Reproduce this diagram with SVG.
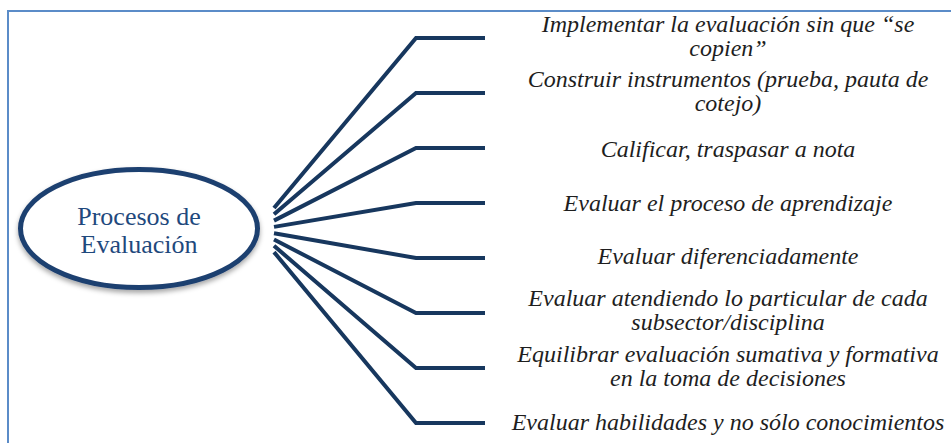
<svg xmlns="http://www.w3.org/2000/svg" width="951" height="443" viewBox="0 0 951 443">
  <style>
    .frame { fill: none; stroke: #5b8cc8; stroke-width: 2; }
    .conn { fill: none; stroke: #17375e; stroke-width: 4; stroke-linejoin: miter; }
    .hub { fill: #ffffff; stroke: #1f3f6f; stroke-width: 5; }
    .hubtext { font-family: 'Liberation Serif', 'DejaVu Serif', 'Noto Serif', serif; font-size: 26px; fill: #1f497d; text-anchor: middle; }
    .lbl { font-family: 'Liberation Serif', 'DejaVu Serif', 'Noto Serif', serif; font-style: italic; font-size: 24px; fill: #1e1e1e; text-anchor: middle; }
  </style>
  <defs>
    <filter id="shadow" x="-20%" y="-20%" width="140%" height="150%">
      <feDropShadow dx="0" dy="3" stdDeviation="2.5" flood-color="#000000" flood-opacity="0.35"/>
    </filter>
  </defs>
  <rect width="951" height="443" fill="#ffffff"/>
  <path class="frame" d="M8,443 V11 H951"/>

  <g id="connectors">
    <path class="conn" d="M274,208 L416,38 H485"/>
    <path class="conn" d="M274,214.3 L416,93 H485"/>
    <path class="conn" d="M274,220.6 L416,148 H485"/>
    <path class="conn" d="M274,226.9 L416,203 H485"/>
    <path class="conn" d="M274,233.2 L416,258 H485"/>
    <path class="conn" d="M274,239.5 L416,313 H485"/>
    <path class="conn" d="M274,245.8 L416,368 H485"/>
    <path class="conn" d="M274,252.1 L416,423 H485"/>
  </g>

  <g id="hub">
    <ellipse class="hub" cx="139" cy="228.5" rx="118.5" ry="59" filter="url(#shadow)"/>
    <text class="hubtext" x="139" y="225">Procesos de</text>
    <text class="hubtext" x="139" y="253">Evaluación</text>
  </g>

  <g id="n1">
    <text class="lbl" x="728" y="32">Implementar la evaluación sin que “se</text>
    <text class="lbl" x="728" y="56">copien”</text>
  </g>
  <g id="n2">
    <text class="lbl" x="728" y="87">Construir instrumentos (prueba, pauta de</text>
    <text class="lbl" x="728" y="111">cotejo)</text>
  </g>
  <g id="n3">
    <text class="lbl" x="728" y="157">Calificar, traspasar a nota</text>
  </g>
  <g id="n4">
    <text class="lbl" x="728" y="211">Evaluar el proceso de aprendizaje</text>
  </g>
  <g id="n5">
    <text class="lbl" x="728" y="264">Evaluar diferenciadamente</text>
  </g>
  <g id="n6">
    <text class="lbl" x="728" y="306">Evaluar atendiendo lo particular de cada</text>
    <text class="lbl" x="728" y="330">subsector/disciplina</text>
  </g>
  <g id="n7">
    <text class="lbl" x="728" y="362">Equilibrar evaluación sumativa y formativa</text>
    <text class="lbl" x="728" y="386">en la toma de decisiones</text>
  </g>
  <g id="n8">
    <text class="lbl" x="728" y="430">Evaluar habilidades y no sólo conocimientos</text>
  </g>
</svg>
